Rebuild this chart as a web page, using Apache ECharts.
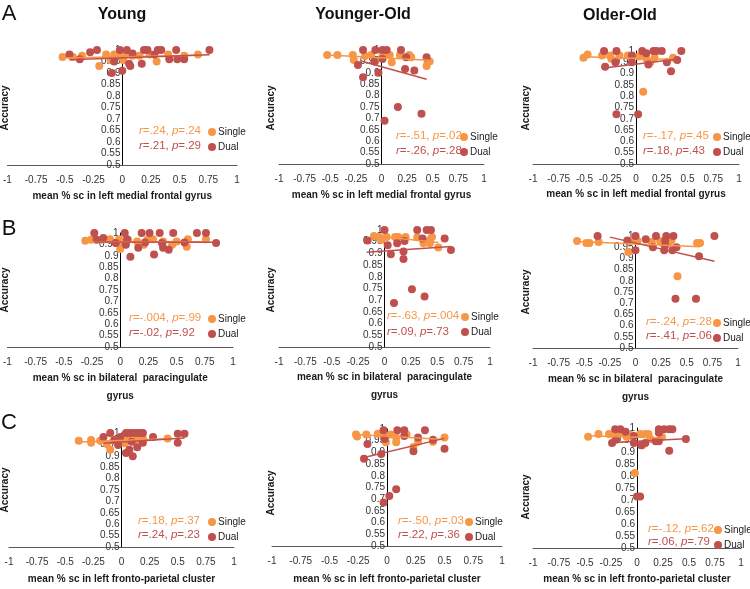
<!DOCTYPE html>
<html>
<head>
<meta charset="utf-8">
<script src="https://cdn.jsdelivr.net/npm/echarts@6/dist/echarts.min.js"></script>
<style>
  html, body { margin: 0; background: #fff; }
  #chart { width: 750px; height: 589px; }
</style>
</head>
<body>
<div id="chart"></div>
<script>
// column / row labels
const groups = ['Young', 'Younger-Old', 'Older-Old'];
const rowLetters = ['A', 'B', 'C'];
const regionNames = [
    'mean % sc in left medial frontal gyrus',
    'mean % sc in bilateral  paracingulate\ngyrus',
    'mean % sc in left fronto-parietal cluster'
];
const conditions = ['Single', 'Dual'];

// A: left medial frontal gyrus  [x = mean % sc, y = accuracy]
const aYoungSingle = [[-0.52,0.97],[-0.43,0.97],[-0.35,0.975],[-0.20,0.93],[-0.14,0.98],[-0.10,0.955],[-0.07,0.98],[-0.03,0.975],[0.01,0.955],[0.03,0.98],[0.09,0.975],[0.15,0.975],[0.24,0.98],[0.30,0.95],[0.40,0.98],[0.54,0.975],[0.66,0.98]];
const aYoungDual = [[-0.46,0.98],[-0.37,0.96],[-0.28,0.99],[-0.22,1.0],[-0.09,0.90],[-0.07,0.95],[-0.02,1.0],[0.0,0.91],[0.04,1.0],[0.06,0.94],[0.07,0.93],[0.09,0.985],[0.17,0.94],[0.19,1.0],[0.22,1.0],[0.28,0.98],[0.31,1.0],[0.34,1.0],[0.41,0.96],[0.47,1.0],[0.48,0.96],[0.54,0.96],[0.76,1.0]];
const aYOSingle = [[-0.53,0.978],[-0.43,0.978],[-0.28,0.978],[-0.27,0.956],[-0.16,0.974],[-0.10,0.978],[-0.06,0.95],[0.01,0.978],[0.08,0.978],[0.10,0.946],[0.18,0.978],[0.27,0.978],[0.29,0.968],[0.44,0.93],[0.45,0.95],[0.47,0.95]];
const aYODual = [[-0.23,0.934],[-0.18,1.0],[-0.18,0.88],[-0.07,0.95],[-0.06,1.0],[-0.03,0.90],[0.01,1.0],[0.01,0.96],[0.03,0.69],[0.05,1.0],[0.16,0.75],[0.19,1.0],[0.23,0.917],[0.24,0.968],[0.32,0.91],[0.39,0.72],[0.44,0.968]];
const aOOSingle = [[-0.51,0.97],[-0.47,0.984],[-0.33,0.98],[-0.25,0.98],[-0.24,0.966],[-0.16,0.98],[-0.08,0.98],[-0.04,0.976],[0.03,0.976],[0.07,0.82],[0.08,0.985],[0.10,0.966],[0.14,0.95],[0.18,0.97],[0.36,0.97]];
const aOODual = [[-0.31,1.0],[-0.30,0.93],[-0.20,0.95],[-0.19,1.0],[-0.19,0.72],[-0.04,0.98],[-0.04,0.95],[0.02,0.72],[0.06,1.0],[0.10,0.99],[0.12,0.94],[0.17,1.0],[0.20,1.0],[0.25,1.0],[0.30,0.95],[0.34,0.91],[0.40,0.96],[0.44,1.0]];

// B: bilateral paracingulate gyrus
const bYoungSingle = [[-0.31,0.966],[-0.26,0.97],[-0.16,0.97],[-0.09,0.973],[-0.01,0.973],[-0.01,0.955],[0.0,0.93],[0.07,0.97],[0.15,0.963],[0.21,0.948],[0.24,0.97],[0.29,0.973],[0.38,0.963],[0.46,0.948],[0.50,0.963],[0.59,0.94],[0.60,0.973],[0.76,0.973]];
const bYoungDual = [[-0.23,1.0],[-0.21,0.97],[-0.15,0.978],[-0.04,0.956],[0.04,1.0],[0.05,0.948],[0.06,0.973],[0.09,0.896],[0.16,0.935],[0.19,1.0],[0.22,0.958],[0.26,1.0],[0.30,0.906],[0.35,1.0],[0.37,0.956],[0.38,0.935],[0.43,0.926],[0.47,1.0],[0.57,0.958],[0.68,1.0],[0.76,1.0],[0.85,0.956]];
const bYOSingle = [[-0.10,0.974],[-0.05,0.97],[-0.03,0.957],[0.02,0.97],[0.10,0.97],[0.13,0.97],[0.20,0.97],[0.31,0.969],[0.37,0.943],[0.43,0.943],[0.43,0.957],[0.45,0.97],[0.51,0.925]];
const bYODual = [[-0.16,0.955],[0.0,1.0],[0.03,0.935],[0.06,0.896],[0.09,0.688],[0.12,0.943],[0.18,0.908],[0.18,0.876],[0.19,0.953],[0.26,0.747],[0.31,1.0],[0.36,0.964],[0.38,0.716],[0.40,1.0],[0.44,1.0],[0.57,0.964],[0.63,0.915]];
const bOOSingle = [[-0.57,0.978],[-0.48,0.969],[-0.45,0.969],[-0.36,0.973],[-0.07,0.929],[-0.07,0.978],[-0.04,0.98],[0.02,0.978],[0.16,0.973],[0.24,0.978],[0.27,0.966],[0.32,0.969],[0.35,0.98],[0.41,0.82],[0.60,0.969],[0.63,0.969]];
const bOODual = [[-0.37,1.0],[-0.08,0.98],[0.0,1.0],[0.0,0.936],[0.10,0.985],[0.17,0.95],[0.20,1.0],[0.28,0.936],[0.29,0.96],[0.29,0.98],[0.30,1.0],[0.36,0.936],[0.37,1.0],[0.39,0.72],[0.40,0.95],[0.59,0.72],[0.62,0.91],[0.77,1.0]];

// C: left fronto-parietal cluster
const cYoungSingle = [[-0.38,0.966],[-0.27,0.969],[-0.27,0.957],[-0.19,0.966],[-0.13,0.952],[-0.10,0.926],[-0.07,0.969],[-0.01,0.969],[0.03,0.955],[0.06,0.98],[0.13,0.969],[0.19,0.976],[0.41,0.976]];
const cYoungDual = [[-0.16,0.983],[-0.10,1.0],[-0.06,0.969],[-0.03,0.947],[-0.01,0.983],[0.04,1.0],[0.04,0.912],[0.07,1.0],[0.07,0.926],[0.09,0.962],[0.10,1.0],[0.10,0.898],[0.13,1.0],[0.14,0.937],[0.16,1.0],[0.19,1.0],[0.19,0.957],[0.28,0.983],[0.50,0.997],[0.50,0.957],[0.56,0.997]];
const cYOSingle = [[-0.27,0.977],[-0.26,0.968],[-0.18,0.977],[-0.08,0.98],[-0.03,0.97],[-0.01,0.943],[0.03,0.977],[0.08,0.964],[0.08,0.943],[0.17,0.977],[0.23,0.923],[0.27,0.946],[0.40,0.946],[0.50,0.964]];
const cYODual = [[-0.20,0.873],[-0.17,0.936],[-0.05,0.893],[-0.03,0.995],[-0.03,0.686],[-0.02,0.957],[0.02,0.714],[0.08,0.743],[0.09,0.995],[0.15,0.995],[0.15,0.97],[0.23,0.905],[0.27,0.964],[0.33,0.995],[0.40,0.954],[0.50,0.916]];
const cOOSingle = [[-0.47,0.964],[-0.37,0.975],[-0.27,0.975],[-0.21,0.964],[-0.16,0.98],[-0.10,0.964],[-0.06,0.971],[-0.02,0.813],[0.03,0.975],[0.05,0.928],[0.08,0.975],[0.11,0.975],[0.13,0.954],[0.24,0.962]];
const cOODual = [[-0.24,0.938],[-0.21,0.995],[-0.20,0.951],[-0.16,0.995],[-0.11,0.984],[-0.03,0.967],[-0.03,0.938],[0.0,0.715],[0.03,0.715],[0.04,0.928],[0.08,0.938],[0.18,0.945],[0.21,0.945],[0.21,0.995],[0.21,0.98],[0.26,0.995],[0.31,0.995],[0.31,0.905],[0.34,0.995],[0.47,0.954]];

// linear trend lines (end points), panel order A1..C3
const singleFits = [
    [[-0.52,0.965],[0.66,0.977]], [[-0.53,0.978],[0.47,0.955]], [[-0.51,0.975],[0.40,0.962]],
    [[-0.31,0.962],[0.76,0.962]], [[-0.10,0.975],[0.51,0.947]], [[-0.57,0.975],[0.63,0.952]],
    [[-0.38,0.96],[0.41,0.975]],  [[-0.27,0.977],[0.50,0.955]], [[-0.47,0.968],[0.24,0.958]]
];
const dualFits = [
    [[-0.46,0.958],[0.76,0.979]], [[-0.20,0.952],[0.44,0.872]], [[-0.31,0.925],[0.43,0.966]],
    [[-0.23,0.96],[0.85,0.959]],  [[-0.17,0.905],[0.63,0.929]], [[-0.25,0.995],[0.77,0.887]],
    [[-0.16,0.955],[0.56,0.978]], [[-0.20,0.878],[0.50,0.96]],  [[-0.24,0.94],[0.47,0.955]]
];

// correlation stats, panel order A1..C3
const singleR = ['.24', '-.51', '-.17', '-.004', '-.63', '-.24', '.18', '-.50', '-.12'];
const singleP = ['.24', '.02', '.45', '.99', '.004', '.28', '.37', '.03', '.62'];
const dualR = ['.21', '-.26', '.18', '-.02', '.09', '-.41', '.24', '.22', '.06'];
const dualP = ['.29', '.28', '.43', '.92', '.73', '.06', '.23', '.36', '.79'];

const singleData = [aYoungSingle, aYOSingle, aOOSingle, bYoungSingle, bYOSingle, bOOSingle, cYoungSingle, cYOSingle, cOOSingle];
const dualData = [aYoungDual, aYODual, aOODual, bYoungDual, bYODual, bOODual, cYoungDual, cYODual, cOODual];

// layout (pixels) – one entry per panel
const grids = [
    { left: 7, top: 50, width: 230, height: 115 },
    { left: 279, top: 50, width: 205, height: 114 },
    { left: 533, top: 51, width: 206, height: 113 },
    { left: 7, top: 233, width: 226, height: 114 },
    { left: 279, top: 230, width: 211, height: 117 },
    { left: 533, top: 236, width: 205, height: 112 },
    { left: 9, top: 433, width: 225, height: 117 },
    { left: 272, top: 429, width: 230, height: 124 },
    { left: 533, top: 428, width: 208, height: 126 }
];
const nameGaps = [22, 22, 21, 22, 21, 22, 23, 24, 22];
const statPos = [[139, 132, 147], [396, 137, 152], [643, 137, 152],
                 [129, 319, 334], [387, 317, 333], [646, 323, 337],
                 [138, 522, 536], [398, 522, 536], [648, 530, 543]];
const legendPos = [[208, 126], [460, 131], [713, 131],
                   [208, 313], [461, 311], [713, 317],
                   [208, 516], [465, 516], [714, 524]];
const accPos = [[5, 108], [271, 108], [526, 108],
                [5, 290], [271, 290], [526, 292],
                [5, 490], [271, 493], [526, 497]];
const titlePos = [[122, 15], [363, 15], [620, 16]];
const letterPos = [[9, 14], [9, 229], [9, 423]];

const SINGLE = '#F79646';
const DUAL = '#C0504D';
const FONT = '"Liberation Sans", Arial, sans-serif';

const chart = echarts.init(document.getElementById('chart'));

const xAxes = [], yAxes = [], series = [], legends = [], graphics = [];
grids.forEach((g, i) => {
    xAxes.push({
        type: 'value', gridIndex: i, min: -1, max: 1, interval: 0.25,
        name: regionNames[Math.floor(i / 3)], nameLocation: 'middle', nameGap: nameGaps[i],
        nameTextStyle: { fontFamily: FONT, fontWeight: 'bold', fontSize: 10, color: '#1a1a1a', lineHeight: 18 },
        axisLine: { lineStyle: { color: '#595959', width: 1 } },
        axisTick: { show: false },
        splitLine: { show: false },
        axisLabel: { fontFamily: FONT, fontSize: 10, color: '#333', margin: 10 }
    });
    // the y axis crosses the x axis at 0 (middle of the -1..1 range)
    yAxes.push({
        type: 'value', gridIndex: i, min: 0.5, max: 1, interval: 0.05,
        position: 'left', offset: -g.width / 2,
        axisLine: { onZero: false, lineStyle: { color: '#000', width: 1 } },
        axisTick: { show: false },
        splitLine: { show: false },
        axisLabel: { fontFamily: FONT, fontSize: 10, color: '#333', margin: 2 }
    });
    series.push(
        { name: 'Single', type: 'scatter', xAxisIndex: i, yAxisIndex: i, data: singleData[i],
          symbolSize: 8, itemStyle: { color: SINGLE, opacity: 1 }, z: 3 },
        { name: 'Dual', type: 'scatter', xAxisIndex: i, yAxisIndex: i, data: dualData[i],
          symbolSize: 8, itemStyle: { color: DUAL, opacity: 1 }, z: 4 },
        { name: 'Single fit', type: 'line', xAxisIndex: i, yAxisIndex: i, data: singleFits[i],
          showSymbol: false, silent: true, lineStyle: { color: SINGLE, width: 1.5 }, z: 5 },
        { name: 'Dual fit', type: 'line', xAxisIndex: i, yAxisIndex: i, data: dualFits[i],
          showSymbol: false, silent: true, lineStyle: { color: DUAL, width: 1.5 }, z: 5 }
    );
    legends.push({
        data: conditions, orient: 'vertical', left: legendPos[i][0], top: legendPos[i][1],
        icon: 'circle', itemWidth: 8, itemHeight: 8, itemGap: 3, padding: 0,
        textStyle: { fontFamily: FONT, fontSize: 10, color: '#1a1a1a', padding: [0, 0, 0, -3], lineHeight: 12 },
        selectedMode: false
    });
    const rich = (c) => ({
        i: { fontFamily: FONT, fontSize: 11.5, fontStyle: 'italic', fill: c },
        n: { fontFamily: FONT, fontSize: 11.5, fill: c }
    });
    graphics.push(
        { type: 'text', left: statPos[i][0], top: statPos[i][1] - 7,
          style: { text: `{i|r}{n|=${singleR[i]}, }{i|p}{n|=${singleP[i]}}`, rich: rich(SINGLE) } },
        { type: 'text', left: statPos[i][0], top: statPos[i][2] - 7,
          style: { text: `{i|r}{n|=${dualR[i]}, }{i|p}{n|=${dualP[i]}}`, rich: rich(DUAL) } },
        { type: 'text', x: accPos[i][0], y: accPos[i][1], rotation: Math.PI / 2,
          style: { text: 'Accuracy', font: `bold 10px ${FONT}`, fill: '#1a1a1a', align: 'center', verticalAlign: 'middle' } }
    );
});

groups.forEach((t, j) => {
    graphics.push({ type: 'text', x: titlePos[j][0], y: titlePos[j][1],
        style: { text: t, font: `bold 16px ${FONT}`, fill: '#111', align: 'center', verticalAlign: 'middle' } });
});
rowLetters.forEach((t, j) => {
    graphics.push({ type: 'text', x: letterPos[j][0], y: letterPos[j][1],
        style: { text: t, font: `22px ${FONT}`, fill: '#111', align: 'center', verticalAlign: 'middle' } });
});

chart.setOption({
    animation: false,
    backgroundColor: '#fff',
    grid: grids,
    xAxis: xAxes,
    yAxis: yAxes,
    legend: legends,
    series: series,
    graphic: graphics
});
</script>
</body>
</html>
